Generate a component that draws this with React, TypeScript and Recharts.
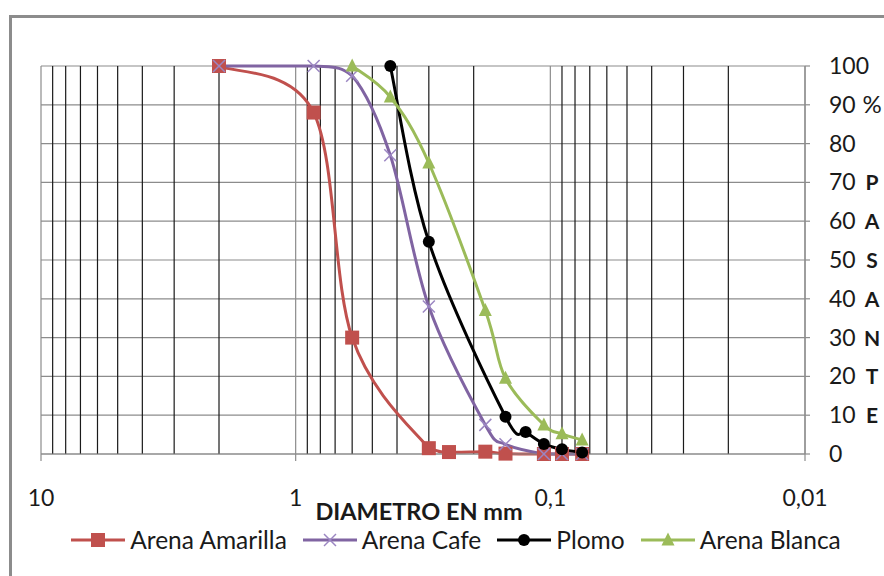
import React from 'react';
import { LineChart, Line, XAxis, YAxis, CartesianGrid, ReferenceLine, Legend } from 'recharts';

// ---- data (diameter in mm, % passing) ----
const amarillaD = [2.0, 0.85, 0.6, 0.3, 0.25, 0.18, 0.15, 0.106, 0.09, 0.075];
const amarillaP = [100, 88, 30, 1.5, 0.5, 0.6, 0.1, 0, 0, 0];
const cafeD = [2.0, 0.85, 0.6, 0.425, 0.3, 0.18, 0.15, 0.106, 0.09, 0.075];
const cafeP = [100, 100, 97.5, 77, 38, 7.5, 2.5, 0, 0, 0];
const plomoD = [0.425, 0.3, 0.15, 0.125, 0.106, 0.09, 0.075];
const plomoP = [100, 54.7, 9.6, 5.7, 2.6, 1.2, 0.4];
const blancaD = [0.6, 0.425, 0.3, 0.18, 0.15, 0.106, 0.09, 0.075];
const blancaP = [100, 92, 75, 37, 19.5, 7.5, 5.2, 3.6];

const xTicks = [10, 1, 0.1, 0.01];
const xMinor = [9, 8, 7, 6, 5, 4, 3, 2, 0.9, 0.8, 0.7, 0.6, 0.5, 0.4, 0.3, 0.2, 0.09, 0.08, 0.07, 0.06, 0.05, 0.04, 0.03, 0.02];
const yTicks = [0, 10, 20, 30, 40, 50, 60, 70, 80, 90, 100];
const yTitleLetters: Record<number, string> = { 90: '%', 70: 'P', 60: 'A', 50: 'S', 40: 'A', 30: 'N', 20: 'T', 10: 'E' };
const xTitle = 'DIAMETRO EN mm';

const zip = (d: number[], p: number[]) => d.map((v, i) => ({ d: v, p: p[i] }));

const FONT = 'Lato, "Noto Sans", sans-serif';
const TEXT = '#1a1a1a';

type MarkerKind = 'square' | 'cross' | 'circle' | 'triangle';

const series: { name: string; color: string; marker: MarkerKind; data: { d: number; p: number }[] }[] = [
  { name: 'Arena Amarilla', color: '#C0504D', marker: 'square', data: zip(amarillaD, amarillaP) },
  { name: 'Arena Cafe', color: '#8064A2', marker: 'cross', data: zip(cafeD, cafeP) },
  { name: 'Plomo', color: '#000000', marker: 'circle', data: zip(plomoD, plomoP) },
  { name: 'Arena Blanca', color: '#9BBB59', marker: 'triangle', data: zip(blancaD, blancaP) },
];

// Spreadsheet-style smoothed line (cubic Bezier through every point)
const smoothCurve: any = (context: any) => {
  let pts: [number, number][] = [];
  return {
    areaStart() {},
    areaEnd() {},
    lineStart() {
      pts = [];
    },
    point(x: number, y: number) {
      pts.push([+x, +y]);
    },
    lineEnd() {
      const n = pts.length;
      if (!n) return;
      const ys = pts.map((p) => p[1]);
      const yMin = Math.min(...ys);
      const yMax = Math.max(...ys);
      const cl = (v: number) => Math.max(yMin, Math.min(yMax, v));
      context.moveTo(pts[0][0], pts[0][1]);
      for (let i = 0; i < n - 1; i++) {
        const p0 = pts[i - 1] || pts[i];
        const p1 = pts[i];
        const p2 = pts[i + 1];
        const p3 = pts[i + 2] || pts[i + 1];
        context.bezierCurveTo(
          p1[0] + (p2[0] - p0[0]) / 6,
          cl(p1[1] + (p2[1] - p0[1]) / 6),
          p2[0] - (p3[0] - p1[0]) / 6,
          cl(p2[1] - (p3[1] - p1[1]) / 6),
          p2[0],
          p2[1]
        );
      }
    },
  };
};

function Marker({ kind, cx, cy, color }: { kind: MarkerKind; cx: number; cy: number; color: string }) {
  if (kind === 'square') {
    const s = 14;
    return <rect x={cx - s / 2} y={cy - s / 2} width={s} height={s} fill={color} />;
  }
  if (kind === 'cross') {
    const s = 6;
    return (
      <g stroke="#9b86c2" strokeWidth={1.5}>
        <line x1={cx - s} y1={cy - s} x2={cx + s} y2={cy + s} />
        <line x1={cx - s} y1={cy + s} x2={cx + s} y2={cy - s} />
      </g>
    );
  }
  if (kind === 'circle') {
    return <circle cx={cx} cy={cy} r={6} fill={color} />;
  }
  const h = 13;
  return (
    <polygon
      points={`${cx},${cy - h / 2 - 1} ${cx + 6.5},${cy + h / 2 - 1} ${cx - 6.5},${cy + h / 2 - 1}`}
      fill={color}
    />
  );
}

const XTick = (props: any) => {
  const { x, y, payload } = props;
  return (
    <text x={x} y={y + 45} textAnchor="middle" fontFamily={FONT} fontSize={23} fill={TEXT}>
      {String(payload.value).replace('.', ',')}
    </text>
  );
};

const YTick = (props: any) => {
  const { x, y, payload } = props;
  const letter = yTitleLetters[payload.value];
  return (
    <g>
      <text x={x + 19} y={y + 8} textAnchor="start" fontFamily={FONT} fontSize={23} fill={TEXT}>
        {payload.value}
      </text>
      {letter ? (
        <text
          x={872}
          y={y + 8}
          textAnchor="middle"
          fontFamily={FONT}
          fontSize={letter === '%' ? 24 : 21}
          fontWeight={letter === '%' ? 400 : 700}
          fill={TEXT}
        >
          {letter}
        </text>
      ) : null}
    </g>
  );
};

const XLabel = (props: any) => {
  const { viewBox } = props;
  const cx = viewBox.x + viewBox.width / 2 - 4;
  return (
    <text x={cx} y={520} textAnchor="middle" fontFamily={FONT} fontSize={23.5} fontWeight={700} fill={TEXT}>
      {xTitle}
    </text>
  );
};

const LegendContent = () => {
  return (
    <div
      style={{
        display: 'flex',
        justifyContent: 'center',
        alignItems: 'center',
        fontFamily: FONT,
        fontSize: 24.5,
        color: TEXT,
        whiteSpace: 'nowrap',
        paddingLeft: 28,
      }}
    >
      {series.map((s, i) => (
        <div key={s.name} style={{ display: 'flex', alignItems: 'center', marginRight: i < series.length - 1 ? 16 : 0 }}>
          <svg width={54} height={24} style={{ display: 'block' }}>
            <line x1={0} y1={12} x2={54} y2={12} stroke={s.color} strokeWidth={3} />
            <Marker kind={s.marker} cx={27} cy={12} color={s.color} />
          </svg>
          <span style={{ marginLeft: 5, lineHeight: '24px' }}>{s.name}</span>
        </div>
      ))}
    </div>
  );
};

export default function App() {
  return (
    <div style={{ position: 'fixed', left: 0, top: 0, width: 884, height: 576, background: '#fff', overflow: 'hidden' }}>
      <div
        style={{
          position: 'absolute',
          left: 9,
          top: 15,
          width: 900,
          height: 600,
          border: '3px solid #8c8c8c',
          boxSizing: 'border-box',
        }}
      />
      <div style={{ position: 'absolute', left: 0, top: 0 }}>
        <LineChart width={884} height={576} margin={{ top: 66, right: 0, bottom: 0, left: 41 }}>
          <CartesianGrid stroke="#8c8c8c" strokeWidth={1.2} horizontal={true} vertical={true} verticalValues={xTicks} horizontalValues={yTicks} />
          {xMinor.map((v) => (
            <ReferenceLine key={v} x={v} stroke="#1a1a1a" strokeWidth={1.2} ifOverflow="hidden" />
          ))}
          <XAxis
            dataKey="d"
            type="number"
            scale="log"
            domain={[0.01, 10]}
            reversed
            ticks={xTicks}
            allowDataOverflow
            height={122}
            tickSize={7}
            tickMargin={0}
            axisLine={{ stroke: '#8c8c8c', strokeWidth: 1.2 }}
            tickLine={{ stroke: '#8c8c8c', strokeWidth: 1.2 }}
            tick={<XTick />}
            label={<XLabel />}
          />
          <YAxis
            orientation="right"
            type="number"
            domain={[0, 100]}
            ticks={yTicks}
            width={79}
            tickSize={5}
            tickMargin={0}
            axisLine={{ stroke: '#8c8c8c', strokeWidth: 1.2 }}
            tickLine={{ stroke: '#8c8c8c', strokeWidth: 1.2 }}
            tick={<YTick />}
          />
          <Legend
            layout="horizontal"
            verticalAlign="middle"
            align="center"
            content={<LegendContent />}
            wrapperStyle={{ top: 528, left: 0, width: 884 }}
          />
          {series.map((s) => (
            <Line
              key={s.name}
              name={s.name}
              data={s.data}
              dataKey="p"
              type={smoothCurve}
              stroke={s.color}
              strokeWidth={3}
              isAnimationActive={false}
              dot={(p: any) => <Marker key={`${s.name}-${p.index}`} kind={s.marker} cx={p.cx} cy={p.cy} color={s.color} />}
              activeDot={false}
            />
          ))}
        </LineChart>
      </div>
    </div>
  );
}
